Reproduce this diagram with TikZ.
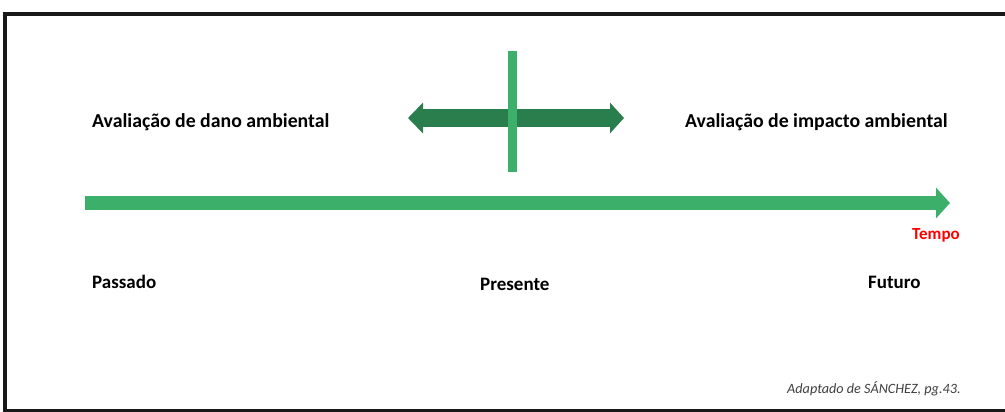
\documentclass[tikz,border=0pt]{standalone}
\usepackage{fontspec}
\setmainfont{Carlito}
\usetikzlibrary{arrows.meta}
\definecolor{lgreen}{RGB}{60,176,106}
\definecolor{dgreen}{RGB}{42,125,76}
\definecolor{capgray}{RGB}{64,64,64}
\tikzset{
  lbl/.style={font=\fontsize{19.8}{22}\selectfont\bfseries, text=black, inner sep=0pt, anchor=west},
  tim/.style={font=\fontsize{19}{22}\selectfont\bfseries, text=black, inner sep=0pt, anchor=west},
}
\begin{document}
\begin{tikzpicture}[x=1pt,y=-1pt]
\useasboundingbox (0,0) rectangle (1005,412);
\clip (0,0) rectangle (1005,412);
\fill[white] (0,0) rectangle (1005,412);
% frame
\draw[line width=3.5pt, black!90] (5,14) rectangle (1040,410.5);
% main time arrow
\coordinate (ts) at (85,203);
\coordinate (te) at (950,203);
\draw[lgreen, line width=14pt, -{Triangle[length=14pt,width=30pt]}] (ts) -- (te);
% double arrow
\coordinate (dl) at (408,118);
\coordinate (dr) at (624,118);
\draw[dgreen, line width=18pt, {Triangle[length=15pt,width=30pt]}-{Triangle[length=14pt,width=30pt]}] (dl) -- (dr);
% vertical line
\coordinate (vt) at (512,51);
\coordinate (vb) at (512,172);
\draw[lgreen, line width=9pt] (vt) -- (vb);
% labels
\node[lbl] (dano) at (92,122) {Avaliação de dano ambiental};
\node[lbl] (imp) at (685,122) {Avaliação de impacto ambiental};
\node[font=\fontsize{17}{19}\selectfont\bfseries, text=red, inner sep=0pt, anchor=west] (tempo) at (912,235) {Tempo};
\node[tim] (pas) at (92,282) {Passado};
\node[tim] (pre) at (480,284) {Presente};
\node[tim] (fut) at (868,282) {Futuro};
\node[font=\fontsize{14.2}{16}\selectfont\itshape, text=capgray, inner sep=0pt, anchor=west] (src) at (787,389) {Adaptado de SÁNCHEZ, pg.43.};
\end{tikzpicture}
\end{document}
